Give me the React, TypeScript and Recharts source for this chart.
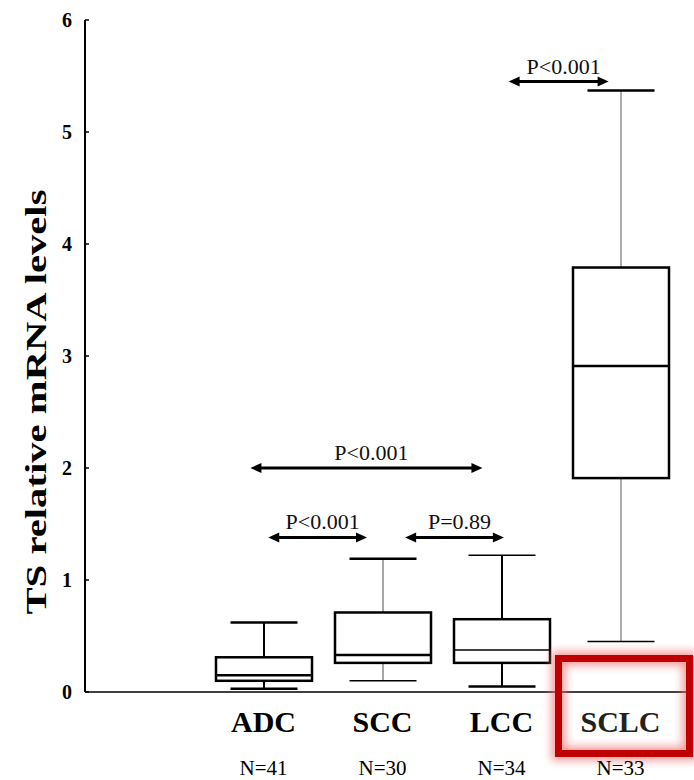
import React from "react";
import { Bar, ComposedChart, ReferenceLine, XAxis, YAxis } from "recharts";

const groups = ["ADC", "SCC", "LCC", "SCLC"];
const sampleSizes = [41, 30, 34, 33];
const mins = [0.03, 0.1, 0.05, 0.45];
const q1s = [0.1, 0.26, 0.26, 1.91];
const medians = [0.15, 0.33, 0.375, 2.91];
const q3s = [0.31, 0.71, 0.65, 3.79];
const maxes = [0.62, 1.19, 1.22, 5.37];
const yTicks = [0, 1, 2, 3, 4, 5, 6];

// pairwise comparisons, x in slot units (slot 0 is the empty one left of ADC)
const pLabels = ["P<0.001", "P<0.001", "P=0.89", "P<0.001"];
const pStarts = [1.39, 1.54, 2.69, 3.56];
const pEnds = [3.34, 2.37, 3.52, 4.4];
const pLevels = [2.0, 1.38, 1.38, 5.45];

const highlighted = "SCLC";

const serif = "'Liberation Serif', 'Times New Roman', serif";

// whisker line weights, per group (the figure is not consistent)
const whiskerStyle: Record<string, { stem: string; stemW: number; top: number; bottom: number }> = {
  ADC: { stem: "#000", stemW: 2, top: 2.5, bottom: 2.5 },
  SCC: { stem: "#888", stemW: 1.5, top: 2.5, bottom: 1.5 },
  LCC: { stem: "#000", stemW: 2, top: 1.5, bottom: 2.5 },
  SCLC: { stem: "#777", stemW: 1.2, top: 2.5, bottom: 1.5 }
};

const slotNames = ["", ...groups];

const rows = slotNames.map((name, s) => {
  const i = s - 1;
  if (i < 0) return { name, slot: s + 0.5 };
  return {
    name,
    slot: s + 0.5,
    n: sampleSizes[i],
    min: mins[i],
    q1: q1s[i],
    median: medians[i],
    q3: q3s[i],
    max: maxes[i],
    iqr: q3s[i] - q1s[i]
  };
});

function BoxShape(props: any) {
  const { x, y, width, height, payload } = props;
  if (!payload || payload.q3 == null || !height) return null;
  const ppu = height / (payload.q3 - payload.q1);
  const toY = (v: number) => y + (payload.q3 - v) * ppu;
  const cx = x + width / 2;
  const cap = 33.5;
  const st = whiskerStyle[payload.name];
  const yMax = toY(payload.max);
  const yMin = toY(payload.min);
  const yMed = toY(payload.median);
  return (
    <g>
      <line x1={cx} x2={cx} y1={yMax} y2={y} stroke={st.stem} strokeWidth={st.stemW} />
      <line x1={cx} x2={cx} y1={y + height} y2={yMin} stroke={st.stem} strokeWidth={st.stemW} />
      <line x1={cx - cap} x2={cx + cap} y1={yMax} y2={yMax} stroke="#000" strokeWidth={st.top} />
      <line x1={cx - cap} x2={cx + cap} y1={yMin} y2={yMin} stroke="#000" strokeWidth={st.bottom} />
      <rect x={x} y={y} width={width} height={height} fill="#fff" stroke="#000" strokeWidth={2.5} />
      <line x1={x} x2={x + width} y1={yMed} y2={yMed} stroke="#000" strokeWidth={payload.name === "LCC" ? 1.5 : 2.5} />
    </g>
  );
}

function YTick(props: any) {
  const { x, y, payload } = props;
  return (
    <g>
      <line x1={x + 13} x2={x + 17} y1={y} y2={y} stroke="#000" strokeWidth={1.5} />
      <text x={x} y={y} dy={7} textAnchor="end" fontFamily={serif} fontWeight="bold" fontSize={20} fill="#000">
        {payload.value}
      </text>
    </g>
  );
}

function XTick(props: any) {
  const { x, y, payload } = props;
  const i = groups.indexOf(payload.value);
  if (i < 0) return null;
  const hi = payload.value === highlighted;
  return (
    <g>
      {hi ? (
        <g>
          <defs>
            <filter id="redGlow" x="-30%" y="-30%" width="160%" height="160%">
              <feGaussianBlur stdDeviation={4} />
            </filter>
          </defs>
          <rect x={x - 62} y={y - 33.5} width={131} height={95} fill="none" stroke="#f07070" strokeWidth={14} opacity={0.7} filter="url(#redGlow)" />
          <rect x={x - 62} y={y - 33.5} width={131} height={95} fill="none" stroke="#c00000" strokeWidth={7} />
        </g>
      ) : null}
      <text x={x} y={y} dy={40} textAnchor="middle" fontFamily={serif} fontWeight="bold" fontSize={30} fill={hi ? "#222" : "#000"}>
        {payload.value}
      </text>
      <text x={x} y={y} dy={83} textAnchor="middle" fontFamily={serif} fontSize={21} fill="#000">
        N={sampleSizes[i]}
      </text>
    </g>
  );
}

function Bracket(p: any) {
  const { x1, x2, y1, label } = p;
  const head = 11;
  return (
    <g>
      <line x1={x1 + head - 2} x2={x2 - head + 2} y1={y1} y2={y1} stroke="#000" strokeWidth={3} />
      <polygon points={`${x1},${y1} ${x1 + head},${y1 - 5} ${x1 + head},${y1 + 5}`} fill="#000" />
      <polygon points={`${x2},${y1} ${x2 - head},${y1 - 5} ${x2 - head},${y1 + 5}`} fill="#000" />
      <text x={(x1 + x2) / 2 + 5} y={y1 - 8} textAnchor="middle" fontFamily={serif} fontSize={22} fill="#111">
        {label}
      </text>
    </g>
  );
}

function YTitle(props: any) {
  const vb = props.viewBox || { x: 0, y: 20, height: 672 };
  const cx = 35;
  const cy = vb.y + vb.height / 2 + 46;
  return (
    <text
      x={cx}
      y={cy}
      transform={`rotate(-90, ${cx}, ${cy})`}
      textAnchor="middle"
      dominantBaseline="central"
      fontFamily={serif}
      fontWeight="bold"
      fontSize={30}
      textLength={425}
      lengthAdjust="spacingAndGlyphs"
      fill="#000"
    >
      TS relative mRNA levels
    </text>
  );
}

export default function App() {
  return (
    <div style={{ position: "absolute", left: 0, top: 0, width: 694, height: 780, background: "#fff" }}>
      <ComposedChart
        width={694}
        height={780}
        data={rows}
        margin={{ top: 20, right: 4, bottom: 0, left: 0 }}
        barSize={96}
      >
        <XAxis
          dataKey="name"
          interval={0}
          tick={<XTick />}
          tickLine={false}
          tickSize={0}
          tickMargin={0}
          height={88}
          padding={{ left: 0, right: 10 }}
          axisLine={{ stroke: "#000", strokeWidth: 1.5 }}
        />
        <XAxis
          xAxisId="num"
          dataKey="slot"
          type="number"
          domain={[0, 5]}
          ticks={[0, 1, 2, 3, 4, 5]}
          hide
          allowDataOverflow
          padding={{ left: 0, right: 10 }}
        />
        <YAxis
          domain={[0, 6]}
          ticks={yTicks}
          width={85}
          interval={0}
          tick={<YTick />}
          tickLine={false}
          tickSize={0}
          tickMargin={13}
          axisLine={{ stroke: "#000", strokeWidth: 2 }}
          label={<YTitle />}
        />
        <Bar dataKey="q1" stackId="box" fill="none" isAnimationActive={false} />
        <Bar dataKey="iqr" stackId="box" shape={<BoxShape />} isAnimationActive={false} />
        {pLabels.map((label, i) => (
          <ReferenceLine
            key={i}
            xAxisId="num"
            ifOverflow="visible"
            segment={[
              { x: pStarts[i], y: pLevels[i] },
              { x: pEnds[i], y: pLevels[i] }
            ]}
            shape={(p: any) => <Bracket {...p} label={label} />}
          />
        ))}
      </ComposedChart>
    </div>
  );
}
